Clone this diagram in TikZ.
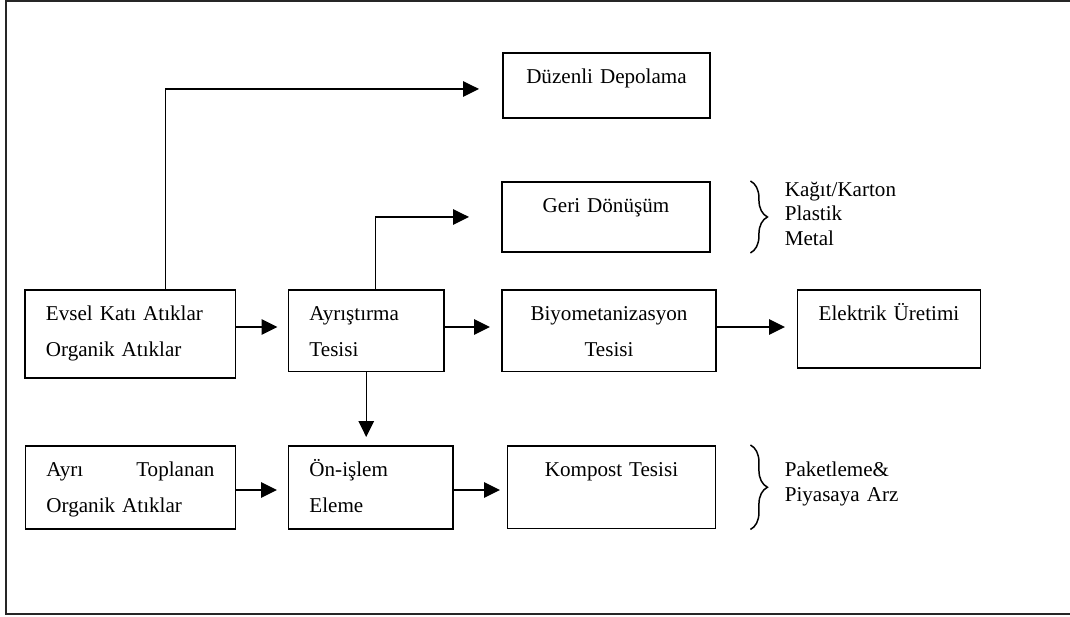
\documentclass[tikz,border=0pt]{standalone}
\usepackage{fontspec}
\setmainfont{Liberation Serif}
\usepackage{tikz}
\usetikzlibrary{arrows.meta}
\usetikzlibrary{decorations.pathreplacing}

\begin{document}
\begin{tikzpicture}[
    kutu/.style={draw, line width=1.1pt, anchor=north west, inner ysep=0pt,
      text height=0.62cm, font=\fontsize{12}{20}\selectfont},
    solkutu/.style={kutu, inner xsep=0.42cm, align=left},
    ortakutu/.style={kutu, inner xsep=0.2cm, align=center},
    ok/.style={-{Triangle[length=0.32cm,width=0.31cm]}, line width=0.75pt},
    parantez/.style={decorate, decoration={brace, amplitude=0.34cm}, line width=0.85pt},
    liste/.style={anchor=north west, inner sep=0pt, text width=3.5cm, align=left,
      text height=0.30cm, font=\fontsize{12}{14}\selectfont}
  ]
  \useasboundingbox (0,0) rectangle (21.4,-12.32);
  \draw[line width=1pt, black!85] (21.4,-0.02) -- (0.12,-0.02) -- (0.12,-12.28) -- (21.4,-12.28);

  \node[ortakutu, text width=3.74cm, text depth=0.68cm] (depo) at (10.04,-1.04) {Düzenli Depolama};
  \node[ortakutu, text width=3.76cm, text depth=0.78cm] (geri) at (10.02,-3.62) {Geri Dönüşüm};
  \node[solkutu, text width=3.37cm, text depth=1.14cm] (evsel) at (0.48,-5.78) {Evsel Katı Atıklar\\Organik Atıklar};
  \node[solkutu, text width=2.27cm, text depth=1.01cm] (ayris) at (5.75,-5.78) {Ayrıştırma\\Tesisi};
  \node[ortakutu, text width=3.88cm, text depth=1.01cm] (biyo) at (10.02,-5.78) {Biyometanizasyon\\Tesisi};
  \node[ortakutu, text width=3.26cm, text depth=0.94cm] (elek) at (15.93,-5.78) {Elektrik Üretimi};
  \node[solkutu, text width=3.36cm, text depth=1.04cm] (ayri) at (0.49,-8.90) {Ayrı\hfill Toplanan\\Organik Atıklar};
  \node[solkutu, text width=2.45cm, text depth=1.04cm] (onis) at (5.75,-8.90) {Ön-işlem\\Eleme};
  \node[ortakutu, text width=3.76cm, text depth=1.03cm] (komp) at (10.13,-8.90) {Kompost Tesisi};

  \draw[ok, shorten >=0.46cm] ([xshift=0.7cm]evsel.north) |- ([yshift=-0.07cm]depo.west);
  \draw[ok, shorten >=0.64cm] ([xshift=0.18cm]ayris.north) |- (geri.west);
  \draw[ok, shorten >=0.2cm] ([yshift=-0.76cm]evsel.north east) -- ([yshift=-0.76cm]ayris.north west);
  \draw[ok, shorten >=0.22cm] ([yshift=-0.76cm]ayris.north east) -- ([yshift=-0.76cm]biyo.north west);
  \draw[ok, shorten >=0.23cm] ([yshift=-0.76cm]biyo.north east) -- ([yshift=-0.76cm]elek.north west);
  \draw[ok, shorten >=0.16cm] (ayris.south) -- (ayris.south |- onis.north);
  \draw[ok, shorten >=0.21cm] ([yshift=-0.9cm]ayri.north east) -- ([yshift=-0.9cm]onis.north west);
  \draw[ok, shorten >=0.13cm] ([yshift=-0.9cm]onis.north east) -- ([yshift=-0.9cm]komp.north west);

  \draw[parantez] ([xshift=0.79cm]geri.north east) -- ([xshift=0.79cm]geri.south east);
  \draw[parantez] ([xshift=0.68cm]komp.north east) -- ([xshift=0.68cm]komp.south east);

  \node[liste] (geriliste) at ([xshift=1.47cm]geri.north east) {Kağıt/Karton\\Plastik\\Metal};
  \node[liste, text height=0.63cm] (kompliste) at ([xshift=1.36cm]komp.north east) {Paketleme\&\\Piyasaya Arz};
\end{tikzpicture}
\end{document}
